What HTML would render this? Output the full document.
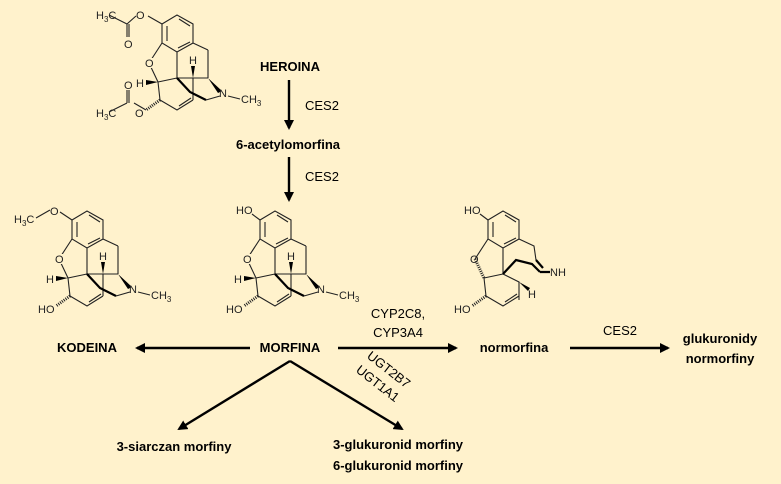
<!DOCTYPE html>
<html><head><meta charset="utf-8"><style>
body{margin:0;background:#FFF2CC;}
svg{display:block}
.b{font-family:"Liberation Sans",sans-serif;font-weight:bold;font-size:13px;fill:#000}
.n{font-family:"Liberation Sans",sans-serif;font-size:13px;fill:#000}
.a{font-family:"Liberation Sans",sans-serif;font-size:11px;fill:#222}
.s{stroke:#222;stroke-width:1.1;fill:none}
.w{stroke:#000;stroke-width:2.6;fill:none}
</style></head><body>
<svg width="781" height="484" viewBox="0 0 781 484">
<defs>
<marker id="ah" markerWidth="10" markerHeight="10" refX="8" refY="5" orient="auto" markerUnits="userSpaceOnUse">
<path d="M0,0 L10,5 L0,10 z" fill="#000"/></marker>
<g id="core">
<path class="s" d="M0,0 L15,-9 L31,0 L31,19 L15,28 L0,19 Z M5,2 L5,17 M17,-5 L28,2 M28,18 L16,24 M0,19 L-13,39 M-13,39 L-4,58 M-4,58 L15,54 M15,28 L15,54 M15,54 L31,54 M31,54 L46,54 M46,54 L46,26 M46,26 L31,19 M31,54 L31,76 M-4,58 L-2,76 M-2,76 L15,86 L31,76 M17,82 L29,74 M66,72 L78,75 M58,72 L44,76"/>
<path fill="#000" d="M46,54 L60,67 L56,69 Z M31,54 L29,42 L33,42 Z M-4,58 L-16,56 L-16,61 Z"/>
<path class="w" d="M15,54 L28,68 L44,76" style="stroke-width:2.2"/>
<path d="M-2,76 L-16,86" stroke="#222" stroke-width="3" stroke-dasharray="1,1.2" fill="none"/>
<rect x="-18" y="34" width="10" height="10" fill="#FFF2CC"/>
<text class="a" x="-17" y="43">O</text>
<text class="a" x="27" y="40">H</text>
<text class="a" x="-26" y="63">H</text>
</g>
</defs>

<!-- heroin -->
<g transform="translate(162,24)">
<use href="#core"/>
<text class="a" x="57" y="73">N</text><text class="a" x="79" y="79">CH<tspan font-size="8" dy="3">3</tspan></text>
<path class="s" d="M0,0 L-14,-8 M-26,-8 L-35,0 M-35,0 L-53,-9 M-35,0 L-35,13 M-33,0 L-33,13 M-16,86 L-28,79 M-35,79 L-35,66 M-33,79 L-33,66 M-35,79 L-53,88"/>
<text class="a" x="-26" y="-5">O</text>
<text class="a" x="-38" y="24">O</text>
<text class="a" x="-66" y="-5">H<tspan font-size="8" dy="3">3</tspan><tspan dy="-3">C</tspan></text>
<text class="a" x="-27" y="93">O</text>
<text class="a" x="-38" y="65">O</text>
<text class="a" x="-66" y="93">H<tspan font-size="8" dy="3">3</tspan><tspan dy="-3">C</tspan></text>
</g>

<!-- codeine -->
<g transform="translate(72,220)">
<use href="#core"/>
<text class="a" x="57" y="73">N</text><text class="a" x="79" y="79">CH<tspan font-size="8" dy="3">3</tspan></text>
<path class="s" d="M0,0 L-12,-8 M-22,-10 L-36,-2"/>
<text class="a" x="-22" y="-5">O</text>
<text class="a" x="-58" y="3">H<tspan font-size="8" dy="3">3</tspan><tspan dy="-3">C</tspan></text>
<text class="a" x="-34" y="93">HO</text>
</g>

<!-- morphine -->
<g transform="translate(260,220)">
<use href="#core"/>
<text class="a" x="57" y="73">N</text><text class="a" x="79" y="79">CH<tspan font-size="8" dy="3">3</tspan></text>
<path class="s" d="M0,0 L-8,-6"/>
<text class="a" x="-24" y="-6">HO</text>
<text class="a" x="-34" y="93">HO</text>
</g>

<!-- normorphine -->
<g transform="translate(488,220)">
<path class="s" d="M0,0 L15,-9 L31,0 L31,19 L15,28 L0,19 Z M5,2 L5,17 M17,-5 L28,2 M28,18 L16,24 M0,19 L-13,39 M-4,58 L15,54 M15,28 L15,54 M31,19 L46,26 L48,40 M15,54 L31,62 L31,80 M-4,58 L-2,76 M-2,76 L15,86 L31,76 M17,82 L29,74 M0,0 L-8,-6"/>
<path d="M-13,39 L-4,58" stroke="#222" stroke-width="3" stroke-dasharray="1,1.2"/>
<path class="w" d="M15,54 L28,40 L44,44 L52,52 M48,40 L55,48 M52,52 L62,52" style="stroke-width:2.2"/>
<path fill="#000" d="M31,62 L42,68 L40,71 Z"/>
<path d="M-2,76 L-16,86" stroke="#222" stroke-width="3" stroke-dasharray="1,1.2"/>
<text class="a" x="-18" y="43">O</text>
<text class="a" x="62" y="56">NH</text>
<text class="a" x="40" y="78">H</text>
<text class="a" x="-24" y="-6">HO</text>
<text class="a" x="-34" y="93">HO</text>
</g>

<!-- labels and arrows -->
<text class="b" x="290" y="71" text-anchor="middle">HEROINA</text>
<line x1="289" y1="80" x2="289" y2="128" stroke="#000" stroke-width="2.4" marker-end="url(#ah)"/>
<text class="n" x="305" y="110">CES2</text>
<text class="b" x="288" y="149" text-anchor="middle">6-acetylomorfina</text>
<line x1="289" y1="157" x2="289" y2="200" stroke="#000" stroke-width="2.4" marker-end="url(#ah)"/>
<text class="n" x="305" y="181">CES2</text>

<text class="b" x="87" y="352" text-anchor="middle">KODEINA</text>
<line x1="250" y1="348" x2="137" y2="348" stroke="#000" stroke-width="2.4" marker-end="url(#ah)"/>
<text class="b" x="290" y="352" text-anchor="middle">MORFINA</text>
<line x1="338" y1="348" x2="456" y2="348" stroke="#000" stroke-width="2.4" marker-end="url(#ah)"/>
<text class="n" x="398" y="318" text-anchor="middle">CYP2C8,</text>
<text class="n" x="398" y="337" text-anchor="middle">CYP3A4</text>
<text class="b" x="514" y="352" text-anchor="middle">normorfina</text>
<line x1="570" y1="348" x2="668" y2="348" stroke="#000" stroke-width="2.4" marker-end="url(#ah)"/>
<text class="n" x="620" y="335" text-anchor="middle">CES2</text>
<text class="b" x="720" y="343" text-anchor="middle">glukuronidy</text>
<text class="b" x="720" y="363" text-anchor="middle">normorfiny</text>

<line x1="290" y1="361" x2="179" y2="429" stroke="#000" stroke-width="2.4" marker-end="url(#ah)"/>
<line x1="290" y1="361" x2="402" y2="429" stroke="#000" stroke-width="2.4" marker-end="url(#ah)"/>
<text class="n" transform="translate(386,373) rotate(38)" text-anchor="middle">UGT2B7</text>
<text class="n" transform="translate(375,387) rotate(38)" text-anchor="middle">UGT1A1</text>
<text class="b" x="174" y="451" text-anchor="middle">3-siarczan morfiny</text>
<text class="b" x="398" y="449" text-anchor="middle">3-glukuronid morfiny</text>
<text class="b" x="398" y="470" text-anchor="middle">6-glukuronid morfiny</text>
</svg>
</body></html>
